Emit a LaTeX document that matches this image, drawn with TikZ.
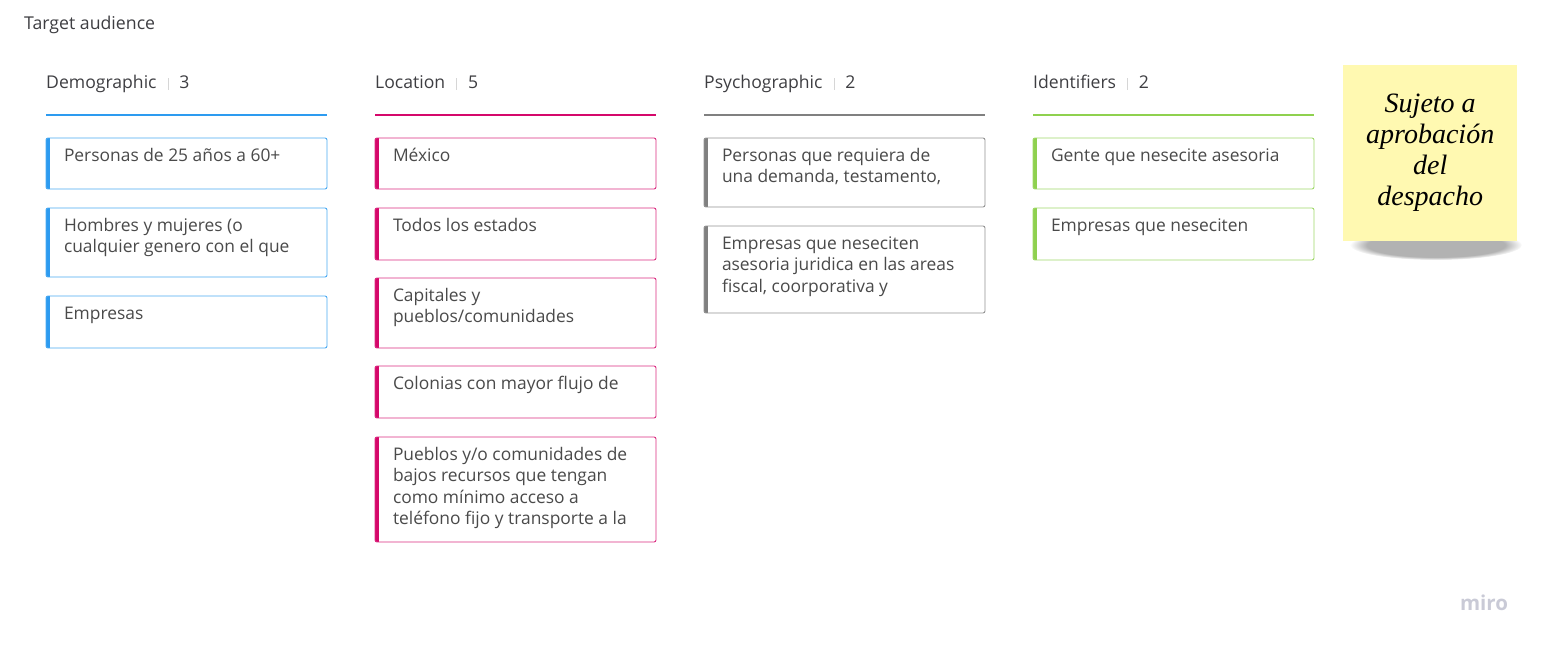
\documentclass[tikz,border=0pt]{standalone}
\usepackage{fontspec}
\setmainfont{Open Sans}
\newfontfamily\notefont{Liberation Serif}
\usetikzlibrary{positioning, fadings}

\definecolor{demoC}{HTML}{2D9BF0}
\definecolor{locC}{HTML}{D5086B}
\definecolor{psyC}{HTML}{808080}
\definecolor{idC}{HTML}{8FD14F}
\definecolor{headC}{HTML}{3E3E42}
\definecolor{textC}{HTML}{4A4A4A}
\definecolor{sepC}{HTML}{D6D6D6}
\definecolor{stickyC}{HTML}{FFF9B1}
\definecolor{logoC}{HTML}{C9CAD6}

% card body: fixed height, text at the top
\newcommand{\cardtext}[2]{\parbox[c][#1][t]{281pt}{\raggedright\leftskip=18pt\relax\vspace*{8pt}\strut #2}}
\newcommand{\colsep}{\hspace{11pt}{\color{sepC}\rule[-1pt]{0.8pt}{12pt}}\hspace{11pt}}

\begin{document}
\begin{tikzpicture}[x=1pt, y=-1pt,
        title/.style={anchor=base west, inner sep=0pt, text=headC, font=\fontsize{17.7}{20}\selectfont},
        head/.style={anchor=base west, inner sep=0pt, text=headC, font=\fontsize{17.6}{20}\selectfont},
        card/.style={draw=#1!85!white, fill=white, rounded corners=2pt, line width=0.9pt,
            inner sep=0pt, outer sep=0pt, text=textC, font=\fontsize{17.4}{21.5}\selectfont,
            path picture={\fill[#1, sharp corners] (path picture bounding box.north west) rectangle ([xshift=4pt]path picture bounding box.south west);}},
        rule/.style={line width=1.6pt},
        sticky/.style={fill=stickyC, minimum width=174pt, minimum height=176pt, inner sep=0pt,
            align=center, font=\notefont\itshape\fontsize{28}{31}\selectfont},
        logo/.style={inner sep=0pt, text=logoC, font=\bfseries\fontsize{20.5}{22}\selectfont}
    ]
    \useasboundingbox (0,0) rectangle (1545,647);

    \node[title] (ttl) at (24,30) {Target audience};

    % Demographic
    \node[head] (demoH) at (46,89) {Demographic\colsep 3};
    \draw[rule, demoC] (46,115) -- (327,115);
    \node[card=demoC, anchor=north west] (d1) at (46,138) {\cardtext{51pt}{Personas de 25 años a 60+}};
    \node[card=demoC, below=19pt of d1] (d2) {\cardtext{69pt}{Hombres y mujeres (o\\cualquier genero con el que}};
    \node[card=demoC, below=19pt of d2] (d3) {\cardtext{52pt}{Empresas}};

    % Location
    \node[head] (locH) at (375,89) {Location\colsep 5};
    \draw[rule, locC] (375,115) -- (656,115);
    \node[card=locC, anchor=north west] (l1) at (375,138) {\cardtext{51pt}{México}};
    \node[card=locC, below=19pt of l1] (l2) {\cardtext{52pt}{Todos los estados}};
    \node[card=locC, below=18pt of l2] (l3) {\cardtext{70pt}{Capitales y\\pueblos/comunidades}};
    \node[card=locC, below=18pt of l3] (l4) {\cardtext{52pt}{Colonias con mayor flujo de}};
    \node[card=locC, below=19pt of l4] (l5) {\cardtext{105pt}{Pueblos y/o comunidades de\\bajos recursos que tengan\\como mínimo acceso a\\teléfono fijo y transporte a la}};

    % Psychographic
    \node[head] (psyH) at (704,89) {Psychographic\colsep 2};
    \draw[rule, psyC] (704,115) -- (985,115);
    \node[card=psyC, anchor=north west] (p1) at (704,138) {\cardtext{69pt}{Personas que requiera de\\una demanda, testamento,}};
    \node[card=psyC, below=19pt of p1] (p2) {\cardtext{87pt}{Empresas que neseciten\\asesoria juridica en las areas\\fiscal, coorporativa y}};

    % Identifiers
    \node[head] (idH) at (1033,89) {Identifiers\colsep 2};
    \draw[rule, idC] (1033,115) -- (1314,115);
    \node[card=idC, anchor=north west] (i1) at (1033,138) {\cardtext{51pt}{Gente que nesecite asesoria}};
    \node[card=idC, below=19pt of i1] (i2) {\cardtext{52pt}{Empresas que neseciten}};

    % Nota adhesiva
    \fill[black, opacity=.3, path fading=circle with fuzzy edge 20 percent] (1436,245) ellipse (86 and 15);
    \node[sticky, anchor=north west] (note) at (1343,65) {Sujeto a\\aprobación\\del\\despacho};

    \node[logo] (mlogo) at (1484,603) {miro};
\end{tikzpicture}
\end{document}
